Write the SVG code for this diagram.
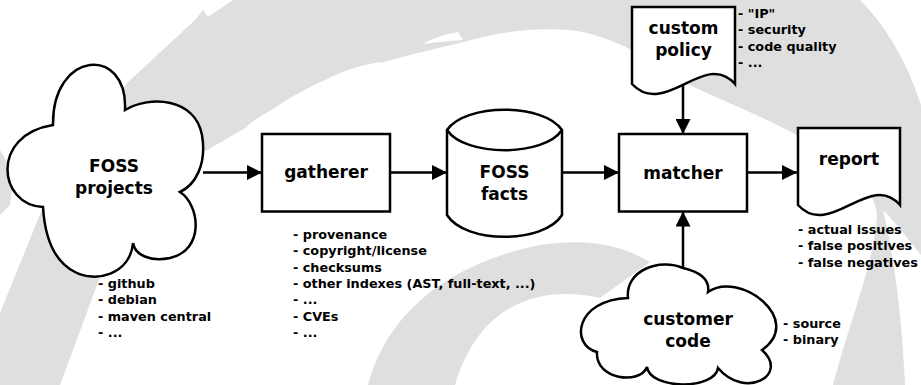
<svg xmlns="http://www.w3.org/2000/svg" width="921" height="385" viewBox="0 0 921 385">
<style>
.bg{fill:#dfdfdf}
.hl{fill:#ffffff}
.shape{fill:#ffffff;stroke:#000;stroke-width:2.5;stroke-linejoin:miter}
.lbl{font-family:"DejaVu Sans",sans-serif;font-weight:bold;font-size:17px;text-anchor:middle;fill:#000}
.lst{font-family:"DejaVu Sans",sans-serif;font-weight:bold;font-size:12.8px;fill:#000}
.conn line{stroke:#000;stroke-width:2.5;fill:none}
</style>
<defs>
<marker id="ah" markerWidth="15" markerHeight="15" refX="15" refY="7.5" orient="auto" markerUnits="userSpaceOnUse"><path d="M0,0 L15,7.5 L0,15 Z" fill="#000"/></marker>
</defs>
<rect width="921" height="385" fill="#fff"/>
<g id="background">
<path class="bg" d="M-30,385 L0,313 L43,207 L127,83 L195,20 L203,10 L208,17 L233,0 L860,0 C890,30 910,70 921,105 L921,385 L833,385 C850,320 875,260 877,215 C875,185 840,160 797,135 C760,115 720,100 690,85 C660,65 615,35 570,30 C530,27 495,33 460,43 C420,52 370,65 330,78 C300,90 270,110 247,127 L190,160 C150,200 115,240 100,277 L60,385 Z"/>
<path class="bg" d="M0,150 L14,175 L10,205 L0,215 Z"/>
<path class="hl" d="M883,210 C895,260 902,320 905,385 L921,385 L921,255 C905,235 893,220 883,210 Z"/>
<path class="hl" d="M327,79 C345,70 362,65 380,62 L384,66 C365,69 348,73 327,79 Z"/>
<path class="hl" d="M422,44 C432,39 445,34 458,32 L463,40 C450,41 437,42 422,44 Z"/>
<path class="hl" d="M245,128 C252,121 262,115 272,110 L270,114 C262,119 254,123 245,128 Z"/>
<path class="bg" d="M368,385 C385,320 440,265 540,245 C590,238 620,245 650,262 L600,298 C545,285 480,300 455,385 Z"/>
</g>
<g class="conn" id="connectors">
<line x1="203" y1="172.5" x2="262" y2="172.5" marker-end="url(#ah)"/>
<line x1="390" y1="172.5" x2="447" y2="172.5" marker-end="url(#ah)"/>
<line x1="562" y1="172.5" x2="619" y2="172.5" marker-end="url(#ah)"/>
<line x1="747" y1="172.5" x2="797" y2="172.5" marker-end="url(#ah)"/>
<line x1="683" y1="84" x2="683" y2="134" marker-end="url(#ah)"/>
<line x1="683" y1="268" x2="683" y2="211.5" marker-end="url(#ah)"/>
</g>
<g id="foss-projects">
<path class="shape" d="M53,125 C52,50 128,45 125,110 C150,95 195,98 202,135 C207,165 195,185 180,192 C200,205 205,250 170,258 C150,262 135,255 133,243 C130,275 95,283 75,272 C55,262 45,240 43,207 C-2,205 -10,135 53,125 Z"/>
<text class="lbl" x="114" y="172">FOSS</text>
<text class="lbl" x="114" y="193.5">projects</text>
<text class="lst" x="98" y="288">- github</text>
<text class="lst" x="98" y="304.3">- debian</text>
<text class="lst" x="98" y="320.6">- maven central</text>
<text class="lst" x="98" y="337">- ...</text>
</g>
<g id="gatherer">
<rect class="shape" x="262" y="134" width="128" height="77.5"/>
<text class="lbl" x="326" y="178">gatherer</text>
<text class="lst" x="293" y="239">- provenance</text>
<text class="lst" x="293" y="255.3">- copyright/license</text>
<text class="lst" x="293" y="271.6">- checksums</text>
<text class="lst" x="293" y="287.9">- other indexes (AST, full-text, ...)</text>
<text class="lst" x="293" y="304.2">- ...</text>
<text class="lst" x="293" y="320.5">- CVEs</text>
<text class="lst" x="293" y="336.8">- ...</text>
</g>
<g id="foss-facts">
<path class="shape" d="M447,130 C465,103 544,103 562,130 L562,215 C544,244 465,244 447,215 Z"/>
<path class="shape" d="M447,130 C465,157 544,157 562,130" fill="none"/>
<text class="lbl" x="504.5" y="178">FOSS</text>
<text class="lbl" x="504.5" y="199.5">facts</text>
</g>
<g id="matcher">
<rect class="shape" x="619" y="134" width="128" height="77.5"/>
<text class="lbl" x="683" y="178.5">matcher</text>
</g>
<g id="custom-policy">
<path class="shape" d="M632,7 H735 V84 C705,49 665,119 632,84 Z"/>
<text class="lbl" x="683.5" y="34">custom</text>
<text class="lbl" x="683.5" y="55.5">policy</text>
<text class="lst" x="738" y="18">- "IP"</text>
<text class="lst" x="738" y="34.3">- security</text>
<text class="lst" x="738" y="50.6">- code quality</text>
<text class="lst" x="738" y="67">- ...</text>
</g>
<g id="report">
<path class="shape" d="M798,128 H900 V205 C870,170 830,240 798,205 Z"/>
<text class="lbl" x="849" y="165">report</text>
<text class="lst" x="798" y="234">- actual issues</text>
<text class="lst" x="798" y="250.3">- false positives</text>
<text class="lst" x="798" y="266.6">- false negatives</text>
</g>
<g id="customer-code">
<path class="shape" d="M628,298 C625,270 660,258 683,268 C700,272 710,280 708,292 C740,270 805,320 762,350 C790,375 745,400 718,368 C715,390 650,390 647,367 C640,385 595,380 597,352 C570,345 575,300 628,298 Z"/>
<text class="lbl" x="688" y="325">customer</text>
<text class="lbl" x="688" y="346.5">code</text>
<text class="lst" x="783" y="327.5">- source</text>
<text class="lst" x="783" y="343.8">- binary</text>
</g>
</svg>
